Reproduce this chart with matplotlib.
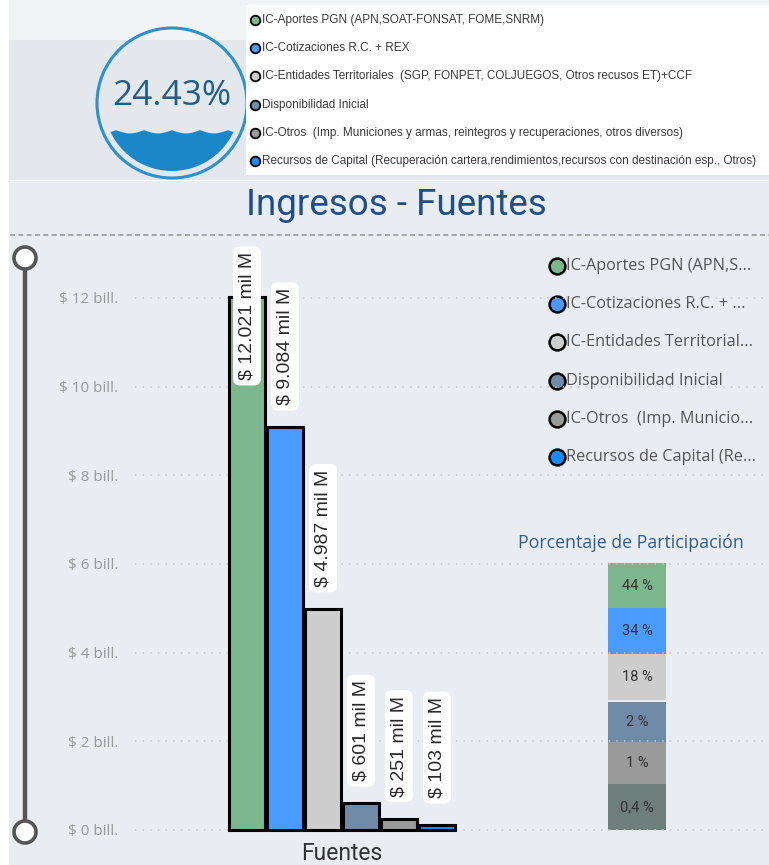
import numpy as np
import matplotlib
matplotlib.use("Agg")
import matplotlib.pyplot as plt
from matplotlib.patches import Circle, Rectangle, Polygon

# ---------------- data ----------------
categories = [
    "IC-Aportes PGN (APN,SOAT-FONSAT, FOME,SNRM)",
    "IC-Cotizaciones R.C. + REX",
    "IC-Entidades Territoriales  (SGP, FONPET, COLJUEGOS, Otros recusos ET)+CCF",
    "Disponibilidad Inicial",
    "IC-Otros  (Imp. Municiones y armas, reintegros y recuperaciones, otros diversos)",
    "Recursos de Capital (Recuperación cartera,rendimientos,recursos con destinación esp., Otros)",
]
legend_short = [
    "IC-Aportes PGN (APN,S...",
    "IC-Cotizaciones R.C. + ...",
    "IC-Entidades Territorial...",
    "Disponibilidad Inicial",
    "IC-Otros  (Imp. Municio...",
    "Recursos de Capital (Re...",
]
values_bill = [12.021, 9.084, 4.987, 0.601, 0.251, 0.103]
value_labels = ["$ 12.021 mil M", "$ 9.084 mil M", "$ 4.987 mil M",
                "$ 601 mil M", "$ 251 mil M", "$ 103 mil M"]
colors = ["#7BB68C", "#4A9BFF", "#CDCDCD", "#6F8BA8", "#9A9A9A", "#118DFF"]
yticks = [0, 2, 4, 6, 8, 10, 12]
ytick_labels = ["$ 0 bill.", "$ 2 bill.", "$ 4 bill.", "$ 6 bill.",
                "$ 8 bill.", "$ 10 bill.", "$ 12 bill."]
pct_labels = ["44 %", "34 %", "18 %", "2 %", "1 %", "0,4 %"]
pct_colors = ["#7BB68C", "#4A9BFF", "#CDCDCD", "#6F8BA8", "#9A9A9A", "#6E7E7A"]
gauge_value = 24.43

W, H = 769, 865
fig = plt.figure(figsize=(W / 100, H / 100), dpi=100)
fig.patch.set_facecolor("white")

# overlay axes in pixel coordinates
ov = fig.add_axes([0, 0, 1, 1])
ov.set_xlim(0, W)
ov.set_ylim(H, 0)
ov.axis("off")
ov.set_zorder(0)

# panel backgrounds
ov.add_patch(Rectangle((9, 0), W - 9, 40, facecolor="#F1F3F7", edgecolor="none"))
ov.add_patch(Rectangle((9, 40), W - 9, 140, facecolor="#E4E8ED", edgecolor="none"))
ov.add_patch(Rectangle((9, 181), W - 9, H - 181, facecolor="#E9EDF2", edgecolor="none"))

# ---- gauge ----
cx, cy, R = 172, 103, 75
ri = 68
clip = Circle((cx, cy), ri, transform=ov.transData)
level = cy + ri - (gauge_value / 100) * 2 * ri - 6
xs = np.linspace(cx - ri, cx + ri, 300)
wave = level + 3.2 * np.abs(np.sin((xs - cx) * np.pi / 28)) - 1.6
poly = np.vstack([np.column_stack([xs, wave]),
                  [[cx + ri, cy + ri + 5], [cx - ri, cy + ri + 5]]])
wp = Polygon(poly, closed=True, facecolor="#1A87C8", edgecolor="none")
ov.add_patch(wp)
wp.set_clip_path(clip)
ov.add_patch(Circle((cx, cy), R, facecolor="none", edgecolor="#2A92D2", lw=2.2))
ov.text(cx, cy - 7, f"{gauge_value:.2f}%", ha="center", va="center",
        fontsize=25.5, color="#1E5F8A", family=["Open Sans", "DejaVu Sans"])

# ---- top legend ----
ov.add_patch(Rectangle((246, 5), W - 246, 170, facecolor="white", edgecolor="none"))
for i, (lab, c) in enumerate(zip(categories, colors)):
    y = 20 + i * 28.2
    ov.scatter([255], [y], s=48, facecolor=c, edgecolor="black", lw=1.3, zorder=3)
    ov.text(262, y, lab, ha="left", va="center", fontsize=8.45, color="#3A3A3A",
            family=["Liberation Sans", "DejaVu Sans"])

# ---- title ----
ov.text(396, 205, "Ingresos - Fuentes", ha="center", va="center", fontsize=26.5,
        color="#1F4E8C", family=["Roboto", "DejaVu Sans"])
ov.plot([10, W], [235, 235], color="#9A9A9A", lw=1.2, ls=(0, (3, 2)))

# ---- slider ----
ov.plot([25, 25], [258, 832], color="#555555", lw=3.2, solid_capstyle="butt")
for y in (258, 832):
    ov.add_patch(Circle((25, y), 11, facecolor="white", edgecolor="#555555", lw=2.6, zorder=3))

# ---- right legend ----
for i, (lab, c) in enumerate(zip(legend_short, colors)):
    y = 266 + i * 38.2
    ov.scatter([557], [y], s=130, facecolor=c, edgecolor="black", lw=1.8, zorder=3)
    ov.text(566, y, lab, ha="left", va="center", fontsize=11.7, color="#555555",
            family=["Open Sans", "DejaVu Sans"])

# ---- percentage column ----
ov.text(631, 543, "Porcentaje de Participación", ha="center", va="center",
        fontsize=12.8, color="#2F5E91", family=["Open Sans", "DejaVu Sans"])
seg_tops = [563, 608, 654, 702, 742, 784]
seg_bots = [608, 654, 700, 742, 784, 830]
for t, b, lab, c in zip(seg_tops, seg_bots, pct_labels, pct_colors):
    ov.add_patch(Rectangle((608, t), 58, b - t, facecolor=c, edgecolor="none"))
    ov.text(637, (t + b) / 2, lab, ha="center", va="center", fontsize=10.5,
            color="#333333", family=["Roboto", "DejaVu Sans"])

# ---- bar chart axes ----
px_per_unit = (830 - 298) / 12.0
ax_left, ax_right, ax_top, ax_bot = 135, 769, 243, 838
ax = fig.add_axes([ax_left / W, 1 - ax_bot / H, (ax_right - ax_left) / W, (ax_bot - ax_top) / H])
ax.set_zorder(1)
ax.patch.set_alpha(0)
ymin = -(ax_bot - 830) / px_per_unit
ymax = (830 - ax_top) / px_per_unit
ax.set_ylim(ymin, ymax)
step = 38.0
ax.set_xlim((ax_left - 247) / step, (ax_right - 247) / step)
x = np.arange(len(values_bill))
ax.bar(x, values_bill, width=0.93, color=colors, edgecolor="black", linewidth=2.2, zorder=2)
for s in ax.spines.values():
    s.set_visible(False)
ax.set_xticks([])
ax.set_yticks(yticks)
ax.set_yticklabels(ytick_labels, fontsize=11, color="#9A9A9A", family=["Open Sans", "DejaVu Sans"])
ax.tick_params(axis="y", length=0, pad=12)
ax.yaxis.grid(True, color="#C4C7CC", lw=1.1, ls=(0, (1, 4)))
ax.set_axisbelow(True)

box = dict(boxstyle="round,pad=0.28,rounding_size=0.35", facecolor="white", edgecolor="none")
lab_kw = dict(rotation=90, ha="center", fontsize=14, color="#2A2A2A",
              family=["Liberation Sans", "DejaVu Sans"], zorder=4, bbox=box)
for xi, v, lab in zip(x, values_bill, value_labels):
    txt_len = 3.2
    bottom = max(v + 0.5, 0.72)
    if bottom + txt_len > ymax:
        ax.text(xi, ymax - 0.2, lab, va="top", **lab_kw)
    else:
        ax.text(xi, bottom, lab, va="bottom", **lab_kw)

ov.text(342, 854, "Fuentes", ha="center", va="center", fontsize=16.5, color="#333333",
        family=["Roboto", "DejaVu Sans"])

fig.savefig("out.png", dpi=100)
